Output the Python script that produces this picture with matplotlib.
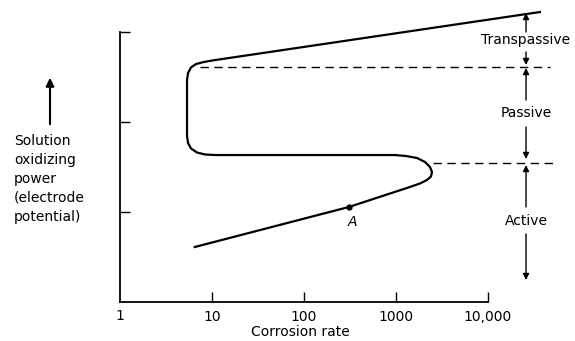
import matplotlib
matplotlib.use("Agg")
import matplotlib.pyplot as plt

# polarization curve (rate on log scale, potential in arbitrary units)
rate = [6.5, 308, 1419, 1824, 2172, 2400, 2462, 2342, 2066, 1691, 1285, 975, 670,
        10.8, 8.39, 6.87, 5.91, 5.49, 5.35, 5.35, 5.49, 5.91, 6.70, 8.19, 10.0, 36700]
potential = [0.611, 1.056, 1.278, 1.317, 1.356, 1.394, 1.444, 1.50, 1.556, 1.60, 1.622, 1.633, 1.633,
             1.633, 1.639, 1.661, 1.706, 1.767, 1.844, 2.467, 2.544, 2.606, 2.644, 2.667, 2.683, 3.222]

point_a = (308, 1.056)

# region boundaries (dashed lines)
bound_y = [2.611, 1.544]
bound_x0 = [7.4, 2525]
bound_x1 = [47200, 53500]

# region labels with arrow extents: (label, y_text, up_from, up_to, down_from, down_to)
regions = [
    ("Transpassive", 2.911, 3.0, 3.211, 2.778, 2.633),
    ("Passive", 2.10, 2.244, 2.600, 1.944, 1.589),
    ("Active", 0.90, 1.056, 1.522, 0.756, 0.244),
]
region_x = 25900

xticks = [10, 100, 1000, 10000]
xticklabels = ["10", "100", "1000", "10,000"]
yticks = [1, 2, 3]

fig = plt.figure(figsize=(5.75, 3.41), dpi=100)
ax = fig.add_axes([120 / 575, 39 / 341, 440 / 575, 297 / 341])
ax.set_xscale("log")
ax.set_xlim(1, 10 ** (440 / 92))
ax.set_ylim(0, 3.3)

ax.plot(rate, potential, color="black", lw=1.6, solid_joinstyle="round")
ax.plot(*point_a, "o", color="black", ms=3.5)
ax.text(333, 0.89, "A", style="italic", fontsize=10, ha="center", va="center")

for y, x0, x1 in zip(bound_y, bound_x0, bound_x1):
    ax.plot([x0, x1], [y, y], color="black", lw=1, dashes=(6, 4))

arrow = dict(arrowstyle="-|>", color="black", lw=1, mutation_scale=9, shrinkA=0, shrinkB=0)
for label, yt, u0, u1, d0, d1 in regions:
    ax.text(region_x, yt, label, fontsize=10, ha="center", va="center")
    ax.annotate("", xy=(region_x, u1), xytext=(region_x, u0), arrowprops=arrow, annotation_clip=False)
    ax.annotate("", xy=(region_x, d1), xytext=(region_x, d0), arrowprops=arrow, annotation_clip=False)

for s in ["top", "right"]:
    ax.spines[s].set_visible(False)
ax.spines["bottom"].set_bounds(1, 10000)
ax.spines["left"].set_bounds(0, 3)
for s in ["bottom", "left"]:
    ax.spines[s].set_linewidth(1.3)

ax.set_xticks(xticks)
ax.set_xticklabels(xticklabels)
ax.xaxis.set_minor_locator(matplotlib.ticker.NullLocator())
ax.set_yticks(yticks)
ax.set_yticklabels([])
ax.tick_params(direction="in", length=7, width=1, labelsize=10, pad=6)
fig.text(120 / 575, 1 - 316 / 341, "1", fontsize=10, ha="center", va="center")
fig.text(300 / 575, 1 - 332 / 341, "Corrosion rate", fontsize=10, ha="center", va="center")

fig.text(14 / 575, 1 - 134 / 341, "Solution\noxidizing\npower\n(electrode\npotential)",
         fontsize=10, ha="left", va="top", linespacing=1.45)
fig.add_artist(matplotlib.patches.FancyArrowPatch((50 / 575, 1 - 127 / 341), (50 / 575, 1 - 75 / 341),
                                                  transform=fig.transFigure, arrowstyle="-|>",
                                                  mutation_scale=12, lw=1.5, color="black"))

fig.savefig("out.png", dpi=100)
